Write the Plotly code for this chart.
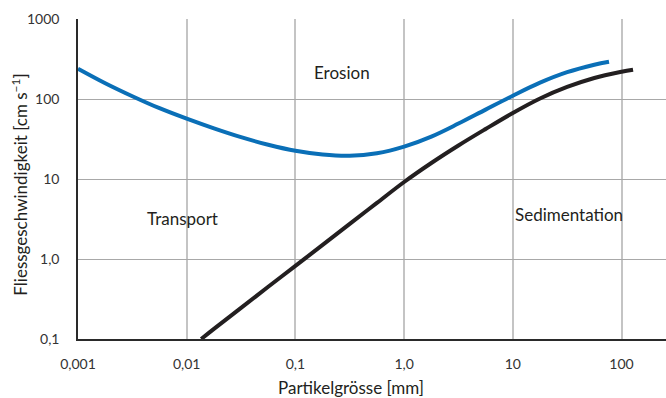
import math
import plotly.graph_objects as go

# Hjulström-type diagram: critical flow velocities vs. particle size
# Erosion threshold (blue), read at quarter-decade steps of grain size
erosion_d = [0.001, 0.00178, 0.00316, 0.00562, 0.01, 0.0178, 0.0316, 0.0562,
             0.1, 0.178, 0.316, 0.562, 1.0, 1.78, 3.16, 5.62, 10, 17.8, 31.6, 56.2, 76.7]
erosion_v = [239.2, 157.6, 108.4, 76.7, 56.7, 42.9, 33.3, 26.8, 22.5, 20.2, 19.5,
             21.0, 25.4, 33.9, 49.3, 73.7, 109.9, 159.9, 216.3, 268.3, 292.5]

# Sedimentation threshold (black)
sediment_d = [0.0136, 0.0178, 0.0316, 0.0562, 0.1, 0.178, 0.316, 0.562, 1.0,
              1.78, 3.16, 5.62, 10, 17.8, 31.6, 56.2, 100, 127.6]
sediment_v = [0.1, 0.1341, 0.2449, 0.4494, 0.820, 1.501, 2.747, 5.025, 9.173,
              15.85, 26.23, 42.17, 66.83, 101.4, 141.3, 183.0, 218.8, 232.4]

x_ticks = [0.001, 0.01, 0.1, 1, 10, 100]
x_ticklabels = ["0,001", "0,01", "0,1", "1,0", "10", "100"]
y_ticks = [0.1, 1, 10, 100, 1000]
y_ticklabels = ["0,1", "1,0", "10", "100", "1000"]

region_labels = ["Erosion", "Transport", "Sedimentation"]
region_x = [0.271, 0.0092, 32.9]
region_y = [213, 3.19, 3.58]

FONT = "Lato, 'Open Sans', sans-serif"
TEXT = "#231f20"

fig = go.Figure()
fig.add_trace(go.Scatter(
    x=erosion_d, y=erosion_v, mode="lines",
    line=dict(color="#0a6fb7", width=4, shape="spline", smoothing=1.0),
    hoverinfo="skip",
))
fig.add_trace(go.Scatter(
    x=sediment_d, y=sediment_v, mode="lines",
    line=dict(color="#231f20", width=4, shape="spline", smoothing=1.0),
    hoverinfo="skip",
))

# region labels (log axes take annotation positions in log10 units)
for txt, xv, yv in zip(region_labels, region_x, region_y):
    fig.add_annotation(
        x=math.log10(xv), y=math.log10(yv), xref="x", yref="y",
        text=txt, showarrow=False,
        font=dict(family=FONT, size=17, color=TEXT),
        xanchor="center", yanchor="middle",
    )

# axis titles
fig.add_annotation(
    x=0.465, y=-0.152, xref="paper", yref="paper",
    text="Partikelgrösse [mm]", showarrow=False,
    font=dict(family=FONT, size=17, color=TEXT),
    xanchor="center", yanchor="middle",
)
fig.add_annotation(
    x=-0.100, y=0.483, xref="paper", yref="paper",
    text="Fliessgeschwindigkeit [cm s<sup>−1</sup>]", showarrow=False,
    font=dict(family=FONT, size=17, color=TEXT),
    textangle=-90, xanchor="center", yanchor="middle",
)

fig.update_xaxes(
    type="log", range=[-3, 2.409],
    tickmode="array", tickvals=x_ticks, ticktext=x_ticklabels,
    showgrid=True, gridcolor="#c4c4c4", gridwidth=1.5,
    showline=True, linecolor="#2a2a2a", linewidth=2,
    ticks="", zeroline=False,
    tickfont=dict(family=FONT, size=14, color="#333333"),
    ticklabelstandoff=11,
)
fig.update_yaxes(
    type="log", range=[-1, 3],
    tickmode="array", tickvals=y_ticks, ticktext=y_ticklabels,
    showgrid=True, gridcolor="#a8a8a8", gridwidth=1,
    showline=True, linecolor="#2a2a2a", linewidth=1.5,
    ticks="", zeroline=False,
    tickfont=dict(family=FONT, size=14, color="#333333"),
    ticklabelstandoff=14,
)

fig.update_layout(
    width=666, height=398,
    margin=dict(l=78, r=0, t=19, b=59),
    plot_bgcolor="white", paper_bgcolor="white",
    showlegend=False,
)

fig.write_html("out.html")
